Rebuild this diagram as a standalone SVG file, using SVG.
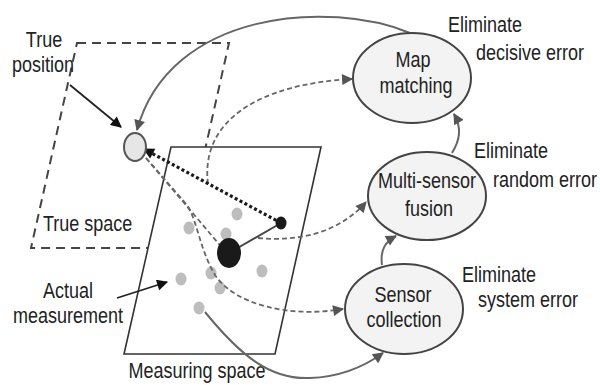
<svg xmlns="http://www.w3.org/2000/svg" width="600" height="385" viewBox="0 0 600 385">
<style>
.t{font-family:"Liberation Sans",Arial,sans-serif;font-size:18px;fill:#222}
.m{text-anchor:middle}
.node{fill:#f3f3f3;stroke:#444;stroke-width:2}
.dash{fill:none;stroke:#666;stroke-width:1.8;stroke-dasharray:5,3}
.gray{fill:none;stroke:#666;stroke-width:2}
.blk{fill:none;stroke:#222;stroke-width:1.8}
.mdot{fill:#bdbdbd}
</style>
<defs>
<marker id="ag" viewBox="0 0 10 10" refX="9" refY="5" markerWidth="13" markerHeight="11" markerUnits="userSpaceOnUse" orient="auto"><path d="M0,0 L10,5 L0,10 z" fill="#555"/></marker>
<marker id="ab" viewBox="0 0 10 10" refX="9" refY="5" markerWidth="13" markerHeight="11" markerUnits="userSpaceOnUse" orient="auto"><path d="M0,0 L10,5 L0,10 z" fill="#111"/></marker>
</defs>
<rect width="600" height="385" fill="#fff"/>

<g id="true-space">
<polygon points="77,43 229,43 183,248 31,248" fill="none" stroke="#444" stroke-width="2" stroke-dasharray="9,6"/>
<text class="t" transform="translate(43,231) scale(1,1.25)">True space</text>
</g>

<g id="connectors-back">
<path class="gray" d="M410,33 C330,0 170,10 137,130" marker-end="url(#ag)"/>
</g>

<g id="measuring-space">
<polygon points="171,147 321,147 275,354 124,354" fill="#fff" stroke="#333" stroke-width="1.6"/>
<text class="t m" transform="translate(197,378) scale(1,1.25)">Measuring space</text>
</g>

<g id="measurements">
<ellipse class="mdot" cx="237" cy="214" rx="5.5" ry="6.5"/>
<ellipse class="mdot" cx="189" cy="228" rx="5.5" ry="6.5"/>
<ellipse class="mdot" cx="226" cy="234" rx="5.5" ry="6.5"/>
<ellipse class="mdot" cx="262" cy="271" rx="5.5" ry="6.5"/>
<ellipse class="mdot" cx="211" cy="273" rx="5.5" ry="6.5"/>
<ellipse class="mdot" cx="181" cy="279" rx="5.5" ry="6.5"/>
<ellipse class="mdot" cx="220" cy="288" rx="5.5" ry="6.5"/>
<ellipse class="mdot" cx="199" cy="308" rx="5.5" ry="6.5"/>
</g>

<g id="connectors">
<path class="dash" d="M208,184 C200,120 260,84 352,79" marker-end="url(#ag)"/>
<path class="dash" d="M258,238 C300,242 340,232 366,202" marker-end="url(#ag)"/>
<path class="dash" d="M146,158 L187,205 C197,220 200,250 215,275 C235,305 290,318 343,309" marker-end="url(#ag)"/>
<path class="dash" d="M146,158 L224,250"/>
<path d="M281,223 L144,149" fill="none" stroke="#1a1a1a" stroke-width="3.2" stroke-dasharray="3,2.5" marker-end="url(#ab)"/>
<path d="M229,253 L281,223" fill="none" stroke="#444" stroke-width="2"/>
<path class="gray" d="M205,312 C240,355 270,380 310,378 C340,377 365,366 383,353" marker-end="url(#ag)"/>
<path class="gray" d="M382,265 C380,250 385,242 396,236" marker-end="url(#ag)"/>
<path class="gray" d="M452,153 C460,140 462,128 454,114" marker-end="url(#ag)"/>
<path class="blk" d="M70,85 L121,127" marker-end="url(#ab)"/>
<path class="blk" d="M117,298 L167,282" marker-end="url(#ab)"/>
</g>

<g id="true-position">
<ellipse cx="135" cy="147" rx="11" ry="14" fill="#e6e6e6" stroke="#555" stroke-width="2"/>
<text class="t m" transform="translate(44,47) scale(1,1.25)">True</text>
<text class="t m" transform="translate(43,72) scale(1,1.25)">position</text>
</g>

<g id="estimates">
<ellipse cx="229" cy="253" rx="12" ry="15" fill="#1a1a1a"/>
<ellipse cx="281" cy="223" rx="5.5" ry="6.5" fill="#1a1a1a"/>
</g>

<g id="actual-measurement">
<text class="t m" transform="translate(68,298) scale(1,1.25)">Actual</text>
<text class="t m" transform="translate(68,323) scale(1,1.25)">measurement</text>
</g>

<g id="map-matching">
<ellipse class="node" cx="412" cy="78" rx="59" ry="45"/>
<text class="t m" transform="translate(413,67) scale(1,1.25)">Map</text>
<text class="t m" transform="translate(416,93) scale(1,1.25)">matching</text>
<text class="t" transform="translate(448,32) scale(1,1.25)">Eliminate</text>
<text class="t" transform="translate(476,60) scale(1,1.25)">decisive error</text>
</g>

<g id="multi-sensor-fusion">
<ellipse class="node" cx="427" cy="196" rx="59" ry="44"/>
<text class="t m" transform="translate(427,188) scale(1,1.25)">Multi-sensor</text>
<text class="t m" transform="translate(429,216) scale(1,1.25)">fusion</text>
<text class="t" transform="translate(474,158) scale(1,1.25)">Eliminate</text>
<text class="t" transform="translate(493,187) scale(1,1.25)">random error</text>
</g>

<g id="sensor-collection">
<ellipse class="node" cx="404" cy="309" rx="59" ry="45"/>
<text class="t m" transform="translate(403,302) scale(1,1.25)">Sensor</text>
<text class="t m" transform="translate(404,327) scale(1,1.25)">collection</text>
<text class="t" transform="translate(462,282) scale(1,1.25)">Eliminate</text>
<text class="t" transform="translate(478,307) scale(1,1.25)">system error</text>
</g>
</svg>
